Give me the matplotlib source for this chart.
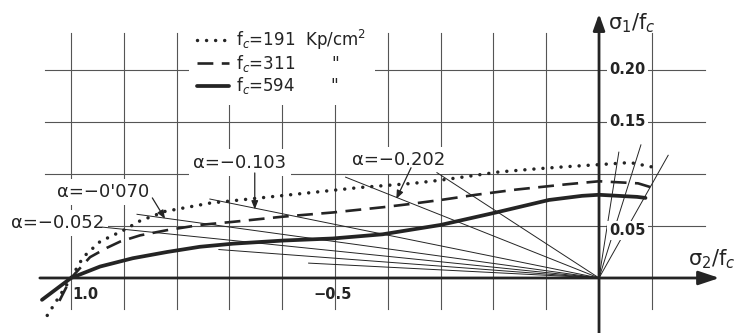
import numpy as np
import matplotlib
matplotlib.use("Agg")
import matplotlib.pyplot as plt

# Biaxial compression-tension envelopes: sigma2/fc (x) against sigma1/fc (y)
fc_191_x = [-1.045, -1.0, -0.977, -0.945, -0.90, -0.869, -0.822, -0.737, -0.642,
            -0.566, -0.453, -0.352, -0.301, -0.244, -0.189, -0.117, -0.063, 0.0,
            0.059, 0.108]
fc_191_y = [-0.036, 0.0, 0.020, 0.035, 0.046, 0.055, 0.064, 0.072, 0.077,
            0.081, 0.087, 0.091, 0.094, 0.098, 0.102, 0.105, 0.107, 0.109,
            0.111, 0.106]

fc_311_x = [-1.022, -1.0, -0.964, -0.932, -0.907, -0.869, -0.818, -0.756, -0.693,
            -0.598, -0.504, -0.41, -0.36, -0.30, -0.233, -0.157, -0.063, 0.0,
            0.074, 0.10]
fc_311_y = [-0.022, 0.0, 0.020, 0.029, 0.035, 0.041, 0.046, 0.051, 0.054,
            0.059, 0.063, 0.068, 0.071, 0.075, 0.080, 0.085, 0.090, 0.093,
            0.091, 0.087]

fc_594_x = [-1.055, -1.0, -0.945, -0.883, -0.818, -0.756, -0.693, -0.598, -0.504,
            -0.41, -0.30, -0.195, -0.095, -0.032, 0.0, 0.072, 0.088]
fc_594_y = [-0.021, 0.0, 0.011, 0.019, 0.025, 0.030, 0.033, 0.036, 0.038,
            0.042, 0.051, 0.063, 0.075, 0.079, 0.080, 0.078, 0.077]

series_labels = ["f$_c$=191  Kp/cm$^2$", "f$_c$=311       \"", "f$_c$=594       \""]

# stress-ratio rays through the origin (slope sigma1/sigma2) and where each starts
ray_alpha = [-0.026, -0.038, -0.052, -0.070, -0.103, -0.202, -0.33]
ray_start_x = [-0.55, -0.72, -0.94, -0.875, -0.737, -0.48, -0.307]
# rays in the tension-tension quadrant: sigma2/sigma1 and upper end
pos_ray_ratio = [0.31, 0.62, 1.11]
pos_ray_top = [0.121, 0.128, 0.118]

alpha_labels = ["α=−0.052", "α=−0'070", "α=−0.103", "α=−0.202"]

grid_x = [-1.0, -0.9, -0.8, -0.7, -0.6, -0.5, -0.4, -0.3, -0.2, -0.1, 0.1]
grid_y = [0.05, 0.10, 0.15, 0.20]
y_tick_vals = [0.05, 0.15, 0.20]
y_tick_text = ["0.05", "0.15", "0.20"]
x_tick_vals = [-1.0, -0.5]
x_tick_text = ["1.0", "−0.5"]

ink = "#242424"
grid_c = "#555555"

fig = plt.figure(figsize=(7.41, 3.33), dpi=100)
ax = fig.add_axes([0, 0, 1, 1])
ax.set_xlim(-1.1345, 0.2689)
ax.set_ylim(-0.0529, 0.2673)
ax.axis("off")

# grid
for gx in grid_x:
    ax.plot([gx, gx], [-0.03, 0.236], color=grid_c, lw=0.8, zorder=1)
for gy in grid_y:
    ax.plot([-1.05, 0.2], [gy, gy], color=grid_c, lw=0.8, zorder=1)

# rays
for a, xs in zip(ray_alpha, ray_start_x):
    ax.plot([xs, 0.0], [a * xs, 0.0], color=ink, lw=0.7, zorder=3)
for r, top in zip(pos_ray_ratio, pos_ray_top):
    ax.plot([0.0, r * top], [0.0, top], color=ink, lw=0.7, zorder=3)

# envelopes
l1, = ax.plot(fc_191_x, fc_191_y, color=ink, lw=2.5, linestyle=(0, (0.01, 2.6)),
              dash_capstyle="round", zorder=4)
l2, = ax.plot(fc_311_x, fc_311_y, color=ink, lw=1.9, linestyle=(0, (6.0, 3.2)),
              zorder=4)
l3, = ax.plot(fc_594_x, fc_594_y, color=ink, lw=2.7, zorder=4,
              solid_capstyle="round", solid_joinstyle="round")

leg = ax.legend([l1, l2, l3], series_labels, loc="upper left",
                bbox_to_anchor=(0.255, 0.942), frameon=True, fontsize=12,
                handlelength=1.9, handletextpad=0.45, labelspacing=0.08,
                borderpad=0.5, borderaxespad=0.0, labelcolor=ink)
leg.get_frame().set_facecolor("white")
leg.get_frame().set_edgecolor("none")
leg.get_frame().set_alpha(1.0)
leg.set_zorder(6)

# axes with arrows
ax.annotate("", xy=(0.228, 0.0), xytext=(-1.059, 0.0),
            arrowprops=dict(arrowstyle="-|>,head_length=0.9,head_width=0.3",
                            color=ink, lw=2.0, mutation_scale=14,
                            shrinkA=0, shrinkB=0), zorder=5)
ax.annotate("", xy=(0.0, 0.254), xytext=(0.0, -0.053),
            arrowprops=dict(arrowstyle="-|>,head_length=0.7,head_width=0.25",
                            color=ink, lw=2.0, mutation_scale=14,
                            shrinkA=0, shrinkB=0), zorder=5)

ax.text(0.062, 0.245, "σ$_1$/f$_c$", fontsize=15, color=ink, ha="center",
        va="center", zorder=6)
ax.text(0.214, 0.018, "σ$_2$/f$_c$", fontsize=15, color=ink, ha="center",
        va="center", zorder=6)

box = dict(facecolor="white", edgecolor="none", pad=1.5)
for v, t in zip(y_tick_vals, y_tick_text):
    yy = v - 0.004 if v == 0.05 else v
    ax.text(0.054, yy, t, fontsize=10.5, fontweight="bold", color=ink,
            ha="center", va="center", bbox=box, zorder=6)
for v, t in zip(x_tick_vals, x_tick_text):
    ax.text(v + (0.027 if v == -1.0 else -0.005), -0.016, t, fontsize=10.5,
            fontweight="bold", color=ink, ha="center", va="center", zorder=6)

# ratio labels with leader arrows
label_pos = [(-1.026, 0.053), (-0.94, 0.083), (-0.680, 0.111), (-0.380, 0.113)]
lbox = dict(facecolor="white", edgecolor="none", pad=3)
for (lx, ly), t in zip(label_pos, alpha_labels):
    ax.text(lx, ly, t, fontsize=13, color=ink, ha="center", va="center",
            bbox=lbox, zorder=2)

arrow_kw = dict(arrowstyle="-|>,head_length=0.5,head_width=0.2", color=ink,
                lw=0.9, mutation_scale=10, shrinkA=0, shrinkB=0)
ax.annotate("", xy=(-0.822, 0.057), xytext=(-0.846, 0.077), arrowprops=arrow_kw,
            zorder=4)
ax.annotate("", xy=(-0.652, 0.066), xytext=(-0.652, 0.101), arrowprops=arrow_kw,
            zorder=4)
ax.annotate("", xy=(-0.384, 0.076), xytext=(-0.356, 0.106), arrowprops=arrow_kw,
            zorder=4)

fig.savefig("out.png", dpi=100, facecolor="white")
